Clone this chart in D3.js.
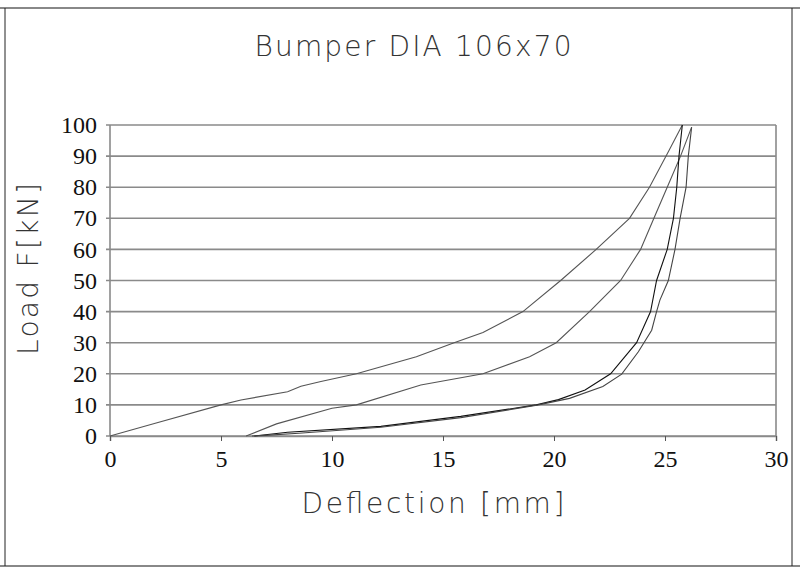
<!DOCTYPE html>
<html><head><meta charset="utf-8">
<script src="https://cdn.jsdelivr.net/npm/d3@7"></script>
<style>body{margin:0;background:#fff}</style>
</head><body>
<svg id="c" width="809" height="573"></svg>
<script>
const title = "Bumper  DIA  106x70";
const xLabel = "Deflection  [mm]";
const yLabel = "Load  F[kN]";
const xTicks = [0,5,10,15,20,25,30];
const yTicks = [0,10,20,30,40,50,60,70,80,90,100];

// series: [deflection mm, load kN]
const loadA = [[0,0],[2,4],[5,10],[5.9,11.6],[8,14.2],[8.6,16],[9.5,17.5],[11.1,20],[13.8,25.5],[15.5,30],[16.8,33.3],[18.6,40],[20.3,50],[21.9,60],[23.4,70],[24.3,80],[25.15,91.4],[25.78,100]];
const unloadA = [[25.78,100],[25.63,90],[25.53,80],[25.38,70],[25.1,60],[24.62,50],[24.35,40],[23.72,30],[22.55,20],[21.4,14.8],[20.2,11.7],[19.2,10],[15.8,6.3],[12.2,3.1],[8,1.2],[6.5,0]];
const loadB = [[6.13,0],[7.5,3.9],[10,8.9],[11.1,10],[14,16.4],[16.8,20],[18.9,25.5],[20.1,30],[21.6,40],[23.0,50],[23.9,60],[24.5,70],[25.1,80],[25.7,90],[26.2,99.3]];
const unloadB = [[26.2,99.3],[26.05,90],[25.95,80],[25.68,70],[25.45,60],[25.15,50],[24.77,43.7],[24.62,40],[24.4,34],[23.8,27.1],[23.05,19.9],[22.2,15.9],[20.7,12.1],[19.3,10],[15.8,5.9],[12.2,2.8],[8.5,0.9],[7,0.2],[6.4,0]];

const svg = d3.select("#c");
const x = d3.scaleLinear().domain([0,30]).range([110,776]);
const y = d3.scaleLinear().domain([0,100]).range([436,125]);

// frame
svg.append("line").attr("x1",0).attr("x2",800).attr("y1",8).attr("y2",8).attr("stroke","#888").attr("stroke-width",2);
svg.append("line").attr("x1",0).attr("x2",800).attr("y1",566).attr("y2",566).attr("stroke","#888").attr("stroke-width",2);
svg.append("line").attr("x1",5).attr("x2",5).attr("y1",8).attr("y2",566).attr("stroke","#222").attr("stroke-width",1);
svg.append("line").attr("x1",792).attr("x2",792).attr("y1",8).attr("y2",566).attr("stroke","#222").attr("stroke-width",1);

// gridlines
svg.append("g").selectAll("line").data(yTicks).join("line")
  .attr("x1",x(0)-4).attr("x2",x(30)).attr("y1",d=>y(d)).attr("y2",d=>y(d))
  .attr("stroke","#8a8a8a").attr("stroke-width",1.6);
// right edge, left axis
svg.append("line").attr("x1",x(30)).attr("x2",x(30)).attr("y1",y(100)).attr("y2",y(0)).attr("stroke","#8a8a8a").attr("stroke-width",1.6);
svg.append("line").attr("x1",x(0)).attr("x2",x(0)).attr("y1",y(100)).attr("y2",y(0)).attr("stroke","#8a8a8a").attr("stroke-width",1.6);

// x axis
const xa = svg.append("g").attr("transform",`translate(0,${y(0)})`)
  .call(d3.axisBottom(x).tickValues(xTicks).tickSize(5).tickPadding(9).tickFormat(d3.format("d")));
xa.select(".domain").attr("stroke","#8a8a8a").attr("stroke-width",1.6);
xa.selectAll(".tick line").attr("stroke","#555");
xa.selectAll("text").attr("font-family","'Liberation Serif', serif").attr("font-size",24).attr("fill","#111");

// y tick labels
const ya = svg.append("g").attr("transform",`translate(${x(0)},0)`)
  .call(d3.axisLeft(y).tickValues(yTicks).tickSize(0).tickPadding(13).tickFormat(d3.format("d")));
ya.select(".domain").remove();
ya.selectAll("text").attr("font-family","'Liberation Serif', serif").attr("font-size",24).attr("fill","#111");

// curves
const line = d3.line().x(d=>x(d[0])).y(d=>y(d[1]));
const series = [
  {d:loadA, c:"#555"},
  {d:loadB, c:"#555"},
  {d:unloadA, c:"#111"},
  {d:unloadB, c:"#444"}
];
svg.append("g").selectAll("path").data(series).join("path")
  .attr("d",s=>line(s.d)).attr("fill","none").attr("stroke",s=>s.c).attr("stroke-width",1.1);

// titles
const thin = "'DejaVu Sans', sans-serif";
svg.append("text").text(title).attr("x",413).attr("y",56).attr("text-anchor","middle")
  .attr("font-family",thin).attr("font-weight",200).attr("font-size",28).attr("fill","#333")
  .attr("textLength",317).attr("lengthAdjust","spacing");
svg.append("text").text(xLabel).attr("x",433).attr("y",513).attr("text-anchor","middle")
  .attr("font-family",thin).attr("font-weight",200).attr("font-size",28).attr("fill","#333")
  .attr("textLength",263).attr("lengthAdjust","spacing");
svg.append("text").text(yLabel).attr("transform","translate(38,269) rotate(-90)").attr("text-anchor","middle")
  .attr("font-family",thin).attr("font-weight",200).attr("font-size",28).attr("fill","#333")
  .attr("textLength",172).attr("lengthAdjust","spacing");
</script>
</body></html>
